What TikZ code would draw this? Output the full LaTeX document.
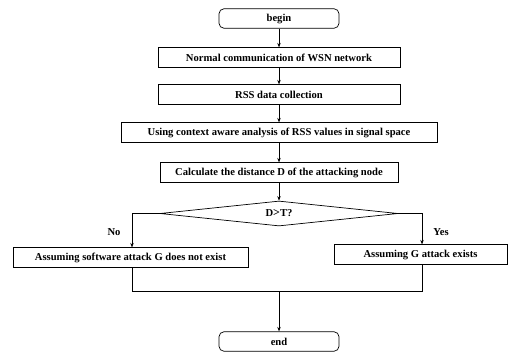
\documentclass[tikz,border=0pt]{standalone}
\usepackage{fontspec}
\setmainfont{Liberation Serif}
\usetikzlibrary{shapes.geometric,arrows.meta}
\begin{document}
\begin{tikzpicture}[x=1pt,y=-1pt,
  every node/.style={font=\bfseries\fontsize{10.6}{12}\selectfont, inner sep=0pt},
  proc/.style={draw, line width=0.7pt, minimum height=19.5pt},
  term/.style={draw, line width=0.7pt, rounded corners=5pt, minimum width=120pt, minimum height=19.5pt},
  dec/.style={draw, line width=0.7pt, diamond, aspect=9.5, minimum width=238pt, minimum height=25pt},
  conn/.style={line width=0.7pt, -{Stealth[length=4.5pt,width=3.5pt]}},
  plain/.style={line width=0.7pt}]
\useasboundingbox (0,0) rectangle (508,356);
\node[term] (begin) at (279,18.5) {begin};
\node[proc, minimum width=242pt] (normal) at (279,57.5) {Normal communication of WSN network};
\node[proc, minimum width=242pt] (rss) at (279,94.5) {RSS data collection};
\node[proc, minimum width=316pt] (ctx) at (279,132.5) {Using context aware analysis of RSS values in signal space};
\node[proc, minimum width=238pt] (calc) at (279,172.5) {Calculate the distance D of the attacking node};
\node[dec, inner sep=0pt] (dt) at (279,213.5) {D{\large >}T?};
\node[proc, minimum width=235pt] (no) at (130.5,257.5) {Assuming software attack G does not exist};
\node[proc, minimum width=173pt] (yes) at (420.5,254.5) {Assuming G attack exists};
\node[term] (end) at (279,341.5) {end};
\node (nolab) at (114,232) {No};
\node (yeslab) at (441,232) {Yes};
\coordinate (lt) at (132,213.5);
\coordinate (rt) at (422,213.5);
\coordinate (lb) at (132,291);
\coordinate (rb) at (422,291);
\coordinate (mb) at (279,291);
\draw[conn] (begin) -- (normal);
\draw[conn] (normal) -- (rss);
\draw[conn] (rss) -- (ctx);
\draw[conn] (ctx) -- (calc);
\draw[conn] (calc) -- (dt);
\draw[conn] (dt.west) -- (lt) -- (lt |- no.north);
\draw[conn] (dt.east) -- (rt) -- (rt |- yes.north);
\draw[plain] (lb |- no.south) -- (lb) -- (rb) -- (rb |- yes.south);
\draw[conn] (mb) -- (end);
\end{tikzpicture}
\end{document}
